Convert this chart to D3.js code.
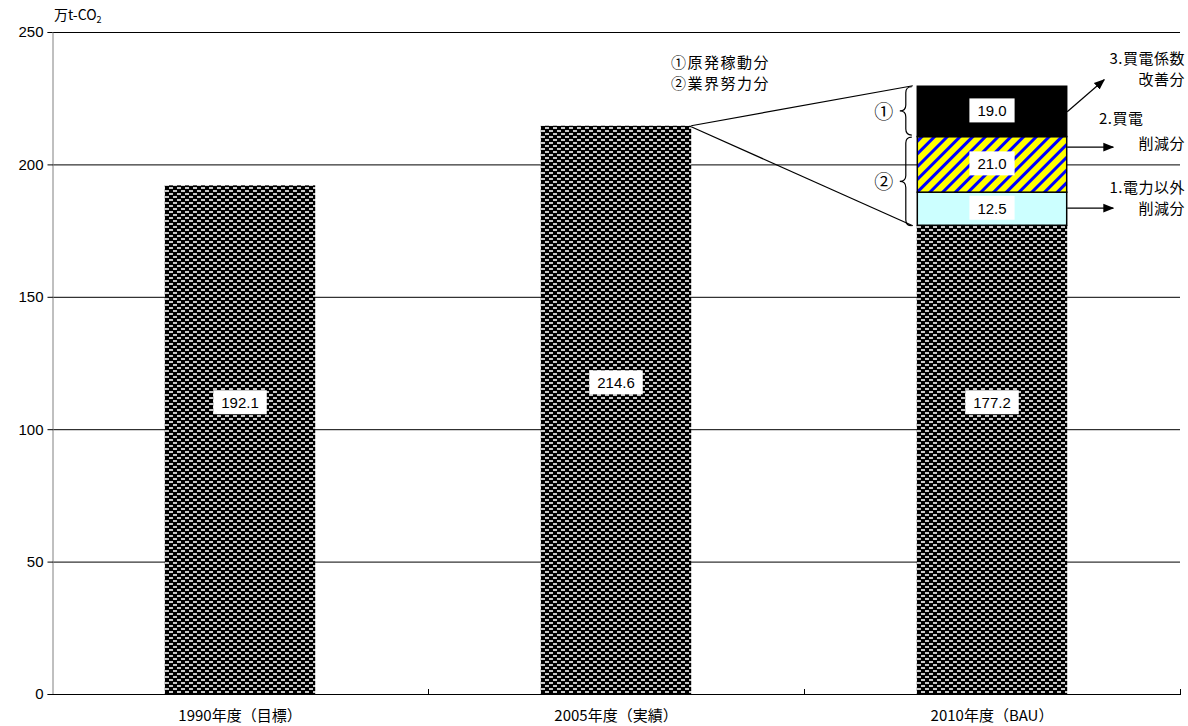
<!DOCTYPE html>
<html><head><meta charset="utf-8">
<script src="https://cdn.jsdelivr.net/npm/d3@7/dist/d3.min.js"></script>
<style>
html,body{margin:0;padding:0;background:#fff;}
svg{display:block;font-family:"Noto Sans CJK JP","Liberation Sans",sans-serif;}
</style></head>
<body><svg id="c" width="1188" height="726"></svg>
<script>
// ---- data ----
const categories = ["1990年度（目標）", "2005年度（実績）", "2010年度（BAU）"];
const baseValues = [192.1, 214.6, 177.2];
const baseLabelAt = [110, 117.5, 110];           // value at which the bar label sits
const stackNames = ["1.電力以外削減分", "2.買電削減分", "3.買電係数改善分"];
const stackValues = [12.5, 21.0, 19.0];          // stacked on the 2010 bar
const yTicks = [0, 50, 100, 150, 200, 250];
const unitLabel = "万t-CO";
const noteLines = ["①原発稼動分", "②業界努力分"];

// ---- layout ----
const svg = d3.select("#c");
const m = {l: 52};
const x = d3.scaleBand().domain(categories).range([m.l, 1180]).paddingInner(0.6).paddingOuter(0.3);
const y = d3.scaleLinear().domain([0, 250]).range([694, 32]);

const defs = svg.append("defs");
const dots = defs.append("pattern").attr("id", "dots").attr("patternUnits", "userSpaceOnUse")
  .attr("width", 8).attr("height", 6);
dots.append("rect").attr("width", 8).attr("height", 6).attr("fill", "#000");
const dashFill = "#c8c8c8";
dots.append("rect").attr("x", 1).attr("y", 1).attr("width", 4).attr("height", 2).attr("fill", dashFill);
dots.append("rect").attr("x", 5).attr("y", 4).attr("width", 3).attr("height", 2).attr("fill", dashFill);
dots.append("rect").attr("x", 0).attr("y", 4).attr("width", 1).attr("height", 2).attr("fill", dashFill);

const stripes = defs.append("pattern").attr("id", "stripes").attr("patternUnits", "userSpaceOnUse")
  .attr("width", 9).attr("height", 9).attr("patternTransform", "rotate(45)");
stripes.append("rect").attr("width", 9).attr("height", 9).attr("fill", "#ffff00");
stripes.append("rect").attr("width", 3).attr("height", 9).attr("fill", "#0000ff");

const arrowM = defs.append("marker").attr("id", "arr").attr("viewBox", "0 0 10 10")
  .attr("refX", 9).attr("refY", 5).attr("markerWidth", 11).attr("markerHeight", 11)
  .attr("markerUnits", "userSpaceOnUse").attr("orient", "auto");
arrowM.append("path").attr("d", "M0,1 L10,5 L0,9 Z").attr("fill", "#000");

// gridlines
svg.append("g").selectAll("line").data(yTicks.filter(d => d > 0)).join("line")
  .attr("x1", m.l).attr("x2", 1180).attr("y1", d => y(d) + 0.5).attr("y2", d => y(d) + 0.5)
  .attr("stroke", "#000").attr("stroke-width", 1);

// y axis
const ya = svg.append("g").attr("transform", `translate(${m.l + 0.5},0)`)
  .call(d3.axisLeft(y).tickValues(yTicks).tickSize(5).tickPadding(4));
ya.select(".domain").attr("stroke", "#808080");
ya.selectAll(".tick line").attr("stroke", "#000");
ya.selectAll("text").attr("font-size", 15).attr("fill", "#000")
  .attr("font-family", "'Liberation Sans',sans-serif");

// x axis
svg.append("line").attr("x1", m.l).attr("x2", 1180).attr("y1", 694.5).attr("y2", 694.5)
  .attr("stroke", "#000");
const bounds = categories.map(c => x(c) + x.bandwidth() + x.step() * 0.3);
svg.append("g").selectAll("line").data(bounds).join("line")
  .attr("x1", d => Math.round(d) + 0.5).attr("x2", d => Math.round(d) + 0.5)
  .attr("y1", 689).attr("y2", 695).attr("stroke", "#000");
svg.append("g").selectAll("text").data(categories).join("text")
  .attr("x", d => x(d) + x.bandwidth() / 2).attr("y", 721).attr("text-anchor", "middle")
  .attr("font-size", 15).attr("fill", "#000").text(d => d);

// unit label
const ul = svg.append("text").attr("x", 54).attr("y", 20).attr("font-size", 14).attr("fill", "#000");
ul.append("tspan").text(unitLabel);
ul.append("tspan").attr("font-size", 9).attr("dy", 3).text("2");

// base bars
svg.append("g").selectAll("rect").data(baseValues).join("rect")
  .attr("x", (d, i) => x(categories[i])).attr("width", x.bandwidth())
  .attr("y", d => y(d)).attr("height", d => y(0) - y(d)).attr("fill", "url(#dots)");

// stacked segments on 2010
const stackFills = ["#ccffff", "url(#stripes)", "#000"];
const cum = d3.cumsum([baseValues[2], ...stackValues]);
const segs = stackValues.map((v, i) => ({v, y0: cum[i], y1: cum[i + 1], fill: stackFills[i], name: stackNames[i]}));
const bx = x(categories[2]), bw = x.bandwidth();
svg.append("g").selectAll("rect").data(segs).join("rect")
  .attr("x", bx + 0.5).attr("width", bw - 1)
  .attr("y", d => y(d.y1) + 0.5).attr("height", d => y(d.y0) - y(d.y1))
  .attr("fill", d => d.fill).attr("stroke", "#000").attr("stroke-width", 1.5);

// value labels
function label(cx, cy, txt, fs) {
  const t = svg.append("text").attr("x", cx).attr("y", cy).attr("text-anchor", "middle")
    .attr("dominant-baseline", "central").attr("font-size", fs)
    .attr("font-family", "'Liberation Sans',sans-serif").attr("fill", "#000").text(txt);
  const bb = t.node().getBBox();
  svg.insert("rect", () => t.node()).attr("x", bb.x - 8).attr("y", bb.y - 4)
    .attr("width", bb.width + 16).attr("height", bb.height + 7).attr("fill", "#fff");
}
baseValues.forEach((v, i) => label(x(categories[i]) + bw / 2, y(baseLabelAt[i]), v.toFixed(1), 15));
segs.forEach(s => label(bx + bw / 2, y((s.y0 + s.y1) / 2), s.v.toFixed(1), 15));

// zoom lines from 2005 bar
const b2x = x(categories[1]) + bw;
const topTotal = cum[cum.length - 1];
svg.append("line").attr("x1", b2x).attr("y1", y(baseValues[1])).attr("x2", bx - 4).attr("y2", y(topTotal))
  .attr("stroke", "#000").attr("stroke-width", 1.2);
svg.append("line").attr("x1", b2x).attr("y1", y(baseValues[1]) + 1).attr("x2", bx - 4).attr("y2", y(baseValues[2]) + 1)
  .attr("stroke", "#000").attr("stroke-width", 1.2);

// braces
function brace(xs, y0, y1) {
  const w = 6, ym = (y0 + y1) / 2;
  return `M${xs + w},${y0} Q${xs},${y0} ${xs},${y0 + w} L${xs},${ym - w} Q${xs},${ym} ${xs - w},${ym} ` +
         `Q${xs},${ym} ${xs},${ym + w} L${xs},${y1 - w} Q${xs},${y1} ${xs + w},${y1}`;
}
const bxs = bx - 11;
svg.append("path").attr("d", brace(bxs, y(cum[3]) + 1, y(cum[2]) - 1)).attr("fill", "none").attr("stroke", "#000").attr("stroke-width", 1.2);
svg.append("path").attr("d", brace(bxs, y(cum[2]) + 1, y(cum[0]) + 1)).attr("fill", "none").attr("stroke", "#000").attr("stroke-width", 1.2);
svg.append("text").attr("x", bxs - 22).attr("y", y((cum[2] + cum[3]) / 2)).attr("text-anchor", "middle")
  .attr("dominant-baseline", "central").attr("font-size", 19).text("①");
svg.append("text").attr("x", bxs - 22).attr("y", y((cum[0] + cum[2]) / 2)).attr("text-anchor", "middle")
  .attr("dominant-baseline", "central").attr("font-size", 19).text("②");

// notes
svg.append("g").selectAll("text").data(noteLines).join("text")
  .attr("x", 671).attr("y", (d, i) => 68 + i * 21).attr("font-size", 15).attr("letter-spacing", 1.5)
  .attr("fill", "#000").text(d => d);

// arrows + right labels
const rx = bx + bw;
const arrows = [
  {x1: rx, y1: y(cum[3]) + 26, x2: rx + 37, y2: y(cum[3]) - 6},
  {x1: rx, y1: y(cum[2]) + 11, x2: rx + 46, y2: y(cum[2]) + 11},
  {x1: rx, y1: y((cum[0] + cum[1]) / 2), x2: rx + 46, y2: y((cum[0] + cum[1]) / 2)}
];
svg.append("g").selectAll("line").data(arrows).join("line")
  .attr("x1", d => d.x1).attr("y1", d => d.y1).attr("x2", d => d.x2).attr("y2", d => d.y2)
  .attr("stroke", "#000").attr("stroke-width", 1.2).attr("marker-end", "url(#arr)");
const rLabels = [
  {t: "3.買電係数", x: 1185, y: 64, a: "end"},
  {t: "改善分", x: 1185, y: 85, a: "end"},
  {t: "2.買電", x: 1099, y: 124, a: "start"},
  {t: "削減分", x: 1185, y: 149, a: "end"},
  {t: "1.電力以外", x: 1185, y: 193, a: "end"},
  {t: "削減分", x: 1185, y: 214, a: "end"}
];
svg.append("g").selectAll("text").data(rLabels).join("text")
  .attr("x", d => d.x).attr("y", d => d.y).attr("text-anchor", d => d.a)
  .attr("font-size", 15).attr("letter-spacing", 0.5).attr("fill", "#000").text(d => d.t);
</script></body></html>
